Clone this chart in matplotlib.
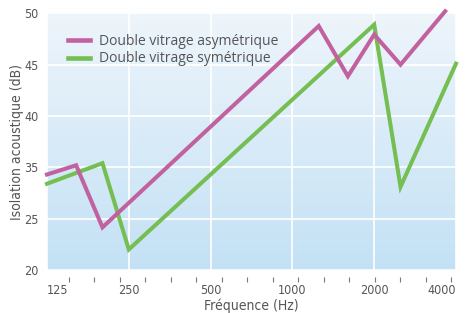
import numpy as np
import matplotlib
matplotlib.use("Agg")
import matplotlib.pyplot as plt
from matplotlib.colors import LinearSegmentedColormap
from matplotlib.ticker import NullFormatter
from matplotlib.font_manager import fontManager

# ---- data ----
freq_asym = [125, 160, 200, 1250, 1600, 2000, 2500, 3650]
val_asym = [29.3, 30.2, 24.15, 43.76, 38.87, 42.93, 40.0, 45.2]
freq_sym = [125, 200, 250, 2000, 2500, 4000]
val_sym = [28.4, 30.4, 22.0, 43.9, 28.1, 40.1]
series_names = ["Double vitrage asymétrique", "Double vitrage symétrique"]
xtick_vals = [125, 250, 500, 1000, 2000, 4000]
xtick_labels = ["125", "250", "500", "1000", "2000", "4000"]
ytick_vals = [20, 25, 30, 35, 40, 45]
ytick_labels = ["20", "25", "35", "40", "45", "50"]

names = {f.name for f in fontManager.ttflist}
if "Liberation Sans Narrow" in names:
    narrow = dict(family="Liberation Sans Narrow")
else:
    narrow = dict(family="DejaVu Sans", stretch="condensed")
text_font = "Open Sans" if "Open Sans" in names else "DejaVu Sans"


def apply_narrow(t):
    t.set_fontfamily(narrow["family"])
    if "stretch" in narrow:
        t.set_fontstretch(narrow["stretch"])


W, H = 467, 313
fig = plt.figure(figsize=(W / 100, H / 100), dpi=100)
ax = fig.add_axes([47 / W, (H - 270) / H, (456 - 47) / W, (270 - 13.3) / H])

# background gradient
cmap = LinearSegmentedColormap.from_list("bg", ["#c3e1f5", "#eef5fb"])
grad = np.linspace(0, 1, 256).reshape(-1, 1)
ax.imshow(grad, aspect="auto", cmap=cmap, origin="lower",
          extent=[0, 1, 0, 1], transform=ax.transAxes, zorder=0)

ax.set_xscale("log", base=2)
ax.set_xlim(125, 4000)
ax.set_ylim(20, 45)

pink = "#c2619f"
green = "#74be52"
ax.plot(freq_asym, val_asym, color=pink, lw=2.9, label=series_names[0],
        solid_joinstyle="miter", clip_on=False, zorder=3)
ax.plot(freq_sym, val_sym, color=green, lw=2.9, label=series_names[1],
        solid_joinstyle="miter", clip_on=False, zorder=2)

for s in ax.spines.values():
    s.set_visible(False)
ax.spines["bottom"].set_position(("outward", 5))

ax.set_xticks(xtick_vals)
ax.set_xticklabels(xtick_labels)
ax.set_xticks(125 * 2 ** (0.269 + 0.3114 * np.arange(16)), minor=True)
ax.xaxis.set_minor_formatter(NullFormatter())
ax.tick_params(axis="x", which="major", length=0, pad=5, labelsize=9,
               labelcolor="#555555")
ax.tick_params(axis="x", which="minor", length=3.5, width=0.8, color="#777777",
               direction="out")
xl = ax.get_xticklabels()
for lab in xl:
    apply_narrow(lab)
xl[0].set_horizontalalignment("left")
xl[-1].set_horizontalalignment("right")

ax.set_yticks(ytick_vals)
ax.set_yticklabels(ytick_labels)
ax.tick_params(axis="y", length=0, pad=6, labelsize=9, labelcolor="#555555")
for lab in ax.get_yticklabels():
    apply_narrow(lab)

ax.grid(True, which="major", color="white", lw=1.2, zorder=1)
ax.set_axisbelow(True)

xlab = ax.set_xlabel("Fréquence (Hz)", fontsize=10, color="#555555", labelpad=1)
ylab = ax.set_ylabel("Isolation acoustique (dB)", fontsize=10, color="#555555")
ax.yaxis.set_label_coords(-0.057, 0.5)
apply_narrow(xlab)
apply_narrow(ylab)

leg = ax.legend(loc="upper left", bbox_to_anchor=(0.035, 0.948), frameon=False,
                handlelength=1.6, handletextpad=0.6, labelspacing=0.2,
                borderpad=0, prop={"family": text_font, "size": 10})
for t in leg.get_texts():
    t.set_color("#555555")
for h in leg.get_lines():
    h.set_linewidth(3.3)

fig.savefig("out.png", dpi=100)
